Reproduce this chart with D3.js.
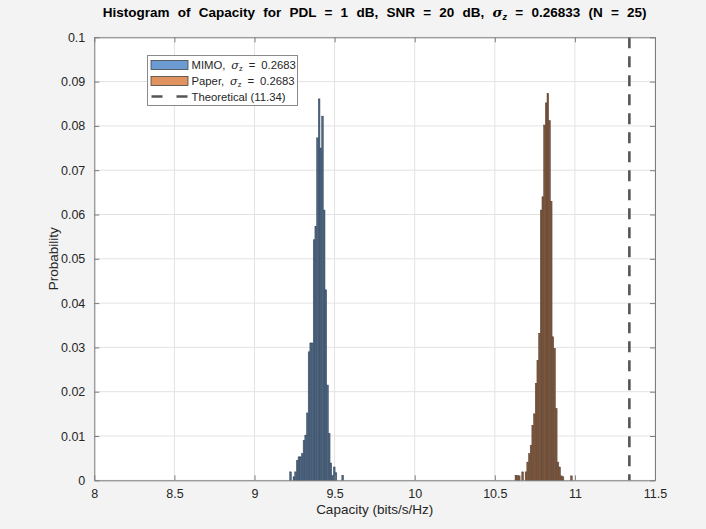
<!DOCTYPE html>
<html>
<head>
<meta charset="utf-8">
<script src="https://cdn.jsdelivr.net/npm/d3@7"></script>
<style>
  html, body { margin: 0; padding: 0; background: #f3f3f3; }
  svg { display: block; font-family: "Liberation Sans", Arial, Helvetica, sans-serif; }
</style>
</head>
<body>
<svg id="chart" width="706" height="529"></svg>
<script>
// Histogram bin layout (bits/s/Hz)
const binWidth = 0.0105;
const mimoStart = 9.2196;
const paperStart = 10.6264;

// Per-bin probability, MIMO capacity
const mimoProb = [0.0019, 0, 0.0008, 0.0019, 0.0045, 0.0053, 0.0053, 0.006, 0.009, 0.0102,
  0.0152, 0.029, 0.031, 0.031, 0.0543, 0.0573, 0.0773, 0.0861, 0.075, 0.0822,
  0.061, 0.043, 0.0215, 0.0106, 0.0039, 0.0011, 0.003, 0.0017, 0, 0, 0, 0.0011];

// Per-bin probability, Paper capacity
const paperProb = [0.0011, 0.0011, 0.001, 0, 0.0019, 0, 0.0019, 0.0041, 0.006, 0.0079,
  0.0124, 0.015, 0.0219, 0.027, 0.0332, 0.061, 0.064, 0.0802, 0.0852, 0.0873,
  0.0812, 0.063, 0.0324, 0.0298, 0.0162, 0.0041, 0.003, 0.001, 0.0008, 0,
  0, 0, 0, 0.001];

const theoretical = 11.34;
const sigmaZ = "0.2683";

const xTicks = [8, 8.5, 9, 9.5, 10, 10.5, 11, 11.5];
const yTicks = [0, 0.01, 0.02, 0.03, 0.04, 0.05, 0.06, 0.07, 0.08, 0.09, 0.1];
const yTickLabels = ["0", "0.01", "0.02", "0.03", "0.04", "0.05", "0.06", "0.07", "0.08", "0.09", "0.1"];

const seriesNames = ["MIMO", "Paper"];

const svg = d3.select("#chart");
const W = 706, H = 529;
const m = { left: 94.3, right: 655, top: 37.3, bottom: 480.3 };

svg.append("rect").attr("width", W).attr("height", H).attr("fill", "#f3f3f3");

const x = d3.scaleLinear().domain([8, 11.5]).range([m.left, m.right]);
const y = d3.scaleLinear().domain([0, 0.1]).range([m.bottom, m.top]);

// plot background
svg.append("rect")
  .attr("x", m.left).attr("y", m.top)
  .attr("width", m.right - m.left).attr("height", m.bottom - m.top)
  .attr("fill", "#ffffff");

// grid
const grid = svg.append("g");
grid.selectAll("line.gx").data(xTicks).join("line")
  .attr("x1", d => x(d)).attr("x2", d => x(d))
  .attr("y1", m.top).attr("y2", m.bottom)
  .attr("stroke", "#e3e3e3").attr("stroke-width", 1);
grid.selectAll("line.gy").data(yTicks).join("line")
  .attr("x1", m.left).attr("x2", m.right)
  .attr("y1", d => y(d)).attr("y2", d => y(d))
  .attr("stroke", "#e3e3e3").attr("stroke-width", 1);

// histogram bars
function drawHist(start, probs, fill, edge) {
  const bins = probs.map((p, i) => ({ x0: start + i * binWidth, x1: start + (i + 1) * binWidth, p }));
  svg.append("g").selectAll("rect").data(bins.filter(b => b.p > 0)).join("rect")
    .attr("x", d => x(d.x0))
    .attr("width", d => x(d.x1) - x(d.x0))
    .attr("y", d => y(d.p))
    .attr("height", d => y(0) - y(d.p))
    .attr("fill", fill)
    .attr("stroke", edge)
    .attr("stroke-width", 0.5);
}
drawHist(mimoStart, mimoProb, "#4b6685", "#39485a");
drawHist(paperStart, paperProb, "#7f5539", "#5a4436");

// theoretical capacity line
svg.append("line")
  .attr("x1", x(theoretical)).attr("x2", x(theoretical))
  .attr("y1", m.top).attr("y2", m.bottom)
  .attr("stroke", "#555555").attr("stroke-width", 2.6)
  .attr("stroke-dasharray", "11,8");

// axes (inward ticks, boxed)
const axisColor = "#7d7d7d";
const textColor = "#262626";
const tickLen = 5;

const xAxis = d3.axisBottom(x).tickValues(xTicks).tickSizeInner(-tickLen).tickSizeOuter(0).tickPadding(9)
  .tickFormat(d3.format("~g"));
const gx = svg.append("g").attr("transform", `translate(0,${m.bottom})`).call(xAxis);
const xAxisTop = d3.axisTop(x).tickValues(xTicks).tickSizeInner(-tickLen).tickSizeOuter(0).tickFormat("");
const gxt = svg.append("g").attr("transform", `translate(0,${m.top})`).call(xAxisTop);

const yAxis = d3.axisLeft(y).tickValues(yTicks).tickSizeInner(-tickLen).tickSizeOuter(0).tickPadding(9)
  .tickFormat((d, i) => yTickLabels[i]);
const gy = svg.append("g").attr("transform", `translate(${m.left},0)`).call(yAxis);
const yAxisRight = d3.axisRight(y).tickValues(yTicks).tickSizeInner(-tickLen).tickSizeOuter(0).tickFormat("");
const gyr = svg.append("g").attr("transform", `translate(${m.right},0)`).call(yAxisRight);

[gx, gxt, gy, gyr].forEach(g => {
  g.select(".domain").attr("stroke", axisColor).attr("stroke-width", 1);
  g.selectAll(".tick line").attr("stroke", axisColor);
  g.selectAll(".tick text").attr("fill", textColor).attr("font-size", 12.5)
    .attr("font-family", "'Liberation Sans', Arial, sans-serif");
});

// axis labels
svg.append("text")
  .attr("x", (m.left + m.right) / 2).attr("y", 514)
  .attr("text-anchor", "middle").attr("font-size", 13.5).attr("fill", textColor)
  .text("Capacity (bits/s/Hz)");
svg.append("text")
  .attr("transform", `translate(58,${(m.top + m.bottom) / 2}) rotate(-90)`)
  .attr("text-anchor", "middle").attr("font-size", 13.5).attr("fill", textColor)
  .text("Probability");

// title
const title = svg.append("text")
  .attr("x", (m.left + m.right) / 2).attr("y", 17)
  .attr("text-anchor", "middle").attr("font-size", 13.5).attr("font-weight", "bold")
  .attr("fill", "#000").attr("word-spacing", 4.5);
title.append("tspan").text("Histogram of Capacity for PDL = 1 dB, SNR = 20 dB, ");
title.append("tspan").attr("font-style", "italic").attr("font-family", "'DejaVu Serif', serif").text("σ");
title.append("tspan").attr("font-size", 9).attr("dy", 3).attr("font-style", "italic").text("z");
title.append("tspan").attr("dy", -3).text(" = 0.26833 (N = 25)");

// legend
const lg = svg.append("g");
const lx = 147.5, ly = 55.5, lw = 150, lh = 50;
lg.append("rect").attr("x", lx).attr("y", ly).attr("width", lw).attr("height", lh)
  .attr("fill", "#ffffff").attr("stroke", "#8a8a8a").attr("stroke-width", 1);

const legendColors = ["#6b9bd0", "#e0935f"];
seriesNames.forEach((name, i) => {
  const cy = ly + 9 + i * 16;
  lg.append("rect").attr("x", lx + 3.5).attr("y", cy - 4).attr("width", 37).attr("height", 9)
    .attr("fill", legendColors[i]).attr("stroke", "#444").attr("stroke-width", 0.8);
  const t = lg.append("text").attr("x", lx + 44).attr("y", cy + 4.5)
    .attr("font-size", 11.3).attr("fill", textColor).attr("word-spacing", 2.8);
  t.append("tspan").text(name + ",  ");
  t.append("tspan").attr("font-style", "italic").attr("font-family", "'DejaVu Serif', serif").text("σ");
  t.append("tspan").attr("font-size", 7.5).attr("dy", 2).text("z");
  t.append("tspan").attr("dy", -2).text("  =  " + sigmaZ);
});
{
  const cy = ly + 9 + 2 * 16;
  lg.append("line").attr("x1", lx + 4).attr("x2", lx + 40).attr("y1", cy).attr("y2", cy)
    .attr("stroke", "#555555").attr("stroke-width", 2.6).attr("stroke-dasharray", "11,14");
  lg.append("text").attr("x", lx + 44).attr("y", cy + 4.5)
    .attr("font-size", 11.3).attr("fill", textColor)
    .text(`Theoretical (${theoretical.toFixed(2)})`);
}
</script>
</body>
</html>
